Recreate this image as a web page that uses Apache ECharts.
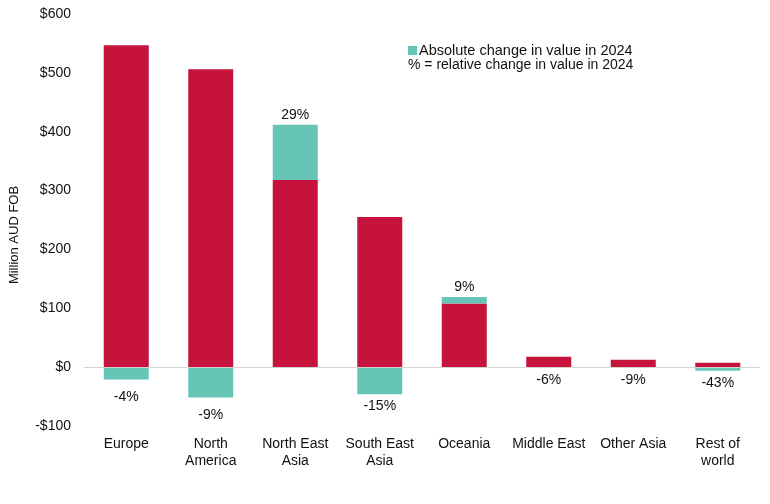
<!DOCTYPE html>
<html>
<head>
<meta charset="utf-8">
<script src="https://cdn.jsdelivr.net/npm/echarts@6/dist/echarts.min.js"></script>
<style>html,body{margin:0;padding:0;background:#fff;}#c{width:770px;height:504px;}</style>
</head>
<body>
<div id="c"></div>
<script>
var categories = ['Europe', 'North\nAmerica', 'North East\nAsia', 'South East\nAsia', 'Oceania', 'Middle East', 'Other Asia', 'Rest of\nworld'];
var value2024 = [547, 506, 318, 255, 108, 17.5, 12.5, 7.3];
var absChange = [-21, -51.5, 94, -46, 11, -1.1, -1.2, -6.3];
var pctChange = ['-4%', '-9%', '29%', '-15%', '9%', '-6%', '-9%', '-43%'];
var yTicks = [-100, 0, 100, 200, 300, 400, 500, 600];

var FONT = 'Liberation Sans, Arial, sans-serif';
var chart = echarts.init(document.getElementById('c'));
var changeData = absChange.map(function (v, i) {
  var item = { value: v, label: { formatter: pctChange[i] } };
  if (v < 0) {
    item.label.position = 'bottom';
    item.label.distance = (i === 0 || i === 1) ? 11 : 5;
  } else {
    item.label.position = 'top';
    item.label.distance = 3;
  }
  return item;
});
chart.setOption({
  animation: false,
  grid: { left: 84, right: 10, top: 14, bottom: 78, containLabel: false },
  legend: {
    data: ['Absolute change in value in 2024'],
    left: 403, top: 38,
    itemWidth: 9, itemHeight: 9, itemGap: 2,
    icon: 'rect',
    textStyle: { fontFamily: FONT, fontSize: 14.5, color: '#111', padding: [0, 0, 0, -3] }
  },
  graphic: [
    { type: 'text', left: 408, top: 58, style: { text: '% = relative change in value in 2024', font: '14px ' + FONT, fill: '#111' } },
    { type: 'text', x: 14, y: 235, rotation: Math.PI / 2, style: { text: 'Million AUD FOB', font: '13px ' + FONT, fill: '#111', align: 'center', verticalAlign: 'middle' } }
  ],
  xAxis: {
    type: 'category',
    data: categories,
    position: 'bottom',
    axisLine: { show: false },
    axisTick: { show: false },
    axisLabel: { fontFamily: FONT, fontSize: 14, color: '#111', margin: 10, lineHeight: 17, interval: 0 }
  },
  yAxis: {
    type: 'value',
    min: yTicks[0], max: yTicks[yTicks.length - 1], interval: 100,
    splitLine: { show: false },
    axisLine: { show: false },
    axisTick: { show: false },
    axisLabel: {
      fontFamily: FONT, fontSize: 14, color: '#111', margin: 13,
      formatter: function (v) { return v < 0 ? '-$' + (-v) : '$' + v; }
    }
  },
  series: [
    {
      name: '2024 value', type: 'bar', stack: 'a', barWidth: 45,
      data: value2024,
      itemStyle: { color: '#C5133B' },
      markLine: {
        silent: true, symbol: 'none', label: { show: false },
        lineStyle: { color: '#D4D4D4', type: 'solid', width: 1 },
        data: [{ yAxis: 0 }]
      }
    },
    {
      name: 'Absolute change in value in 2024', type: 'bar', stack: 'a', barWidth: 45,
      data: changeData,
      itemStyle: { color: '#67C5B7' },
      label: { show: true, fontFamily: FONT, fontSize: 14, color: '#111' }
    }
  ]
});
</script>
</body>
</html>
